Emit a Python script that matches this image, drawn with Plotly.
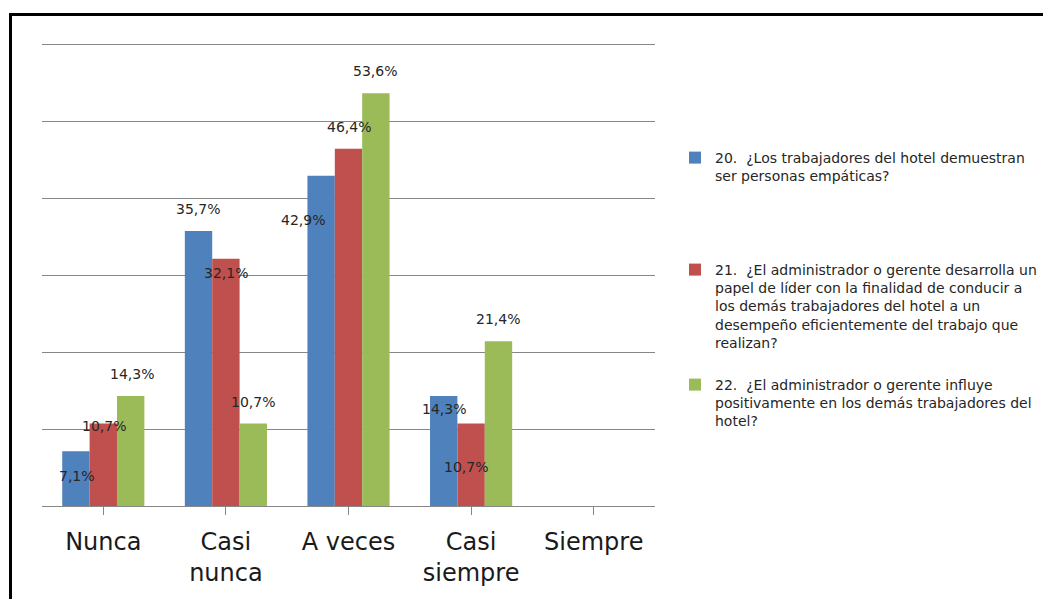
import plotly.graph_objects as go

categories = ["Nunca", "Casi<br>nunca", "A veces", "Casi<br>siempre", "Siempre"]
series_names = [
    "20.  ¿Los trabajadores del hotel demuestran<br>ser personas empáticas?",
    "21.  ¿El administrador o gerente desarrolla un<br>papel de líder con la finalidad de conducir a<br>los demás trabajadores del hotel a un<br>desempeño eficientemente del trabajo que<br>realizan?",
    "22.  ¿El administrador o gerente influye<br>positivamente en los demás trabajadores del<br>hotel?",
]
q20 = [7.1, 35.7, 42.9, 14.3, None]
q21 = [10.7, 32.1, 46.4, 10.7, None]
q22 = [14.3, 10.7, 53.6, 21.4, None]
series_values = [q20, q21, q22]
colors = ["#4F81BD", "#C0504D", "#9BBB59"]

# label nudges (px) relative to each bar's top centre: (dx, dy up)
label_nudge = [
    [(1, -25), (-1, 22), (-18, -44), (0, -13), None],
    [(1, -2), (0, -14), (0, 22), (-5, -43), None],
    [(1, 22), (0, 22), (-1, 22), (0, 22), None],
]

FONT = "DejaVu Sans"
OFF = 8  # default page body margin
PW, PH = 1051, 599
W, H = PW - OFF, PH - OFF
PLOT_L, PLOT_R, PLOT_T, PLOT_B = 42, 655, 41, 506   # page pixels
GRID_TOP = 44  # page pixel of the 60 % gridline
ML = PLOT_L - OFF
MT = PLOT_T - OFF
MR = W - (PLOT_R - OFF)
MB = H - (PLOT_B - OFF)
px_per_unit = (PLOT_B - GRID_TOP) / 60.0
y_top = (PLOT_B - PLOT_T) / px_per_unit

bargap = 0.33
n_series = len(series_values)
bar_w = (1 - bargap) / n_series

plot_h = PLOT_B - PLOT_T
legend_tops = [142, 254, 369]  # page pixels
legend_keys = ["legend", "legend2", "legend3"]

fig = go.Figure()
for j, (name, vals, col) in enumerate(zip(series_names, series_values, colors)):
    fig.add_trace(go.Bar(
        x=list(range(len(categories))), y=vals, name=name,
        marker=dict(color=col, line=dict(width=0)),
        legend=legend_keys[j],
    ))

annotations = []
for j, vals in enumerate(series_values):
    for i, v in enumerate(vals):
        if v is None:
            continue
        dx, dy = label_nudge[j][i]
        annotations.append(dict(
            x=i + (j - (n_series - 1) / 2) * bar_w, y=v, xref="x", yref="y",
            text=f"{v:.1f}%".replace(".", ","), showarrow=False,
            xshift=dx, yshift=dy, yanchor="middle", xanchor="center",
            font=dict(family=FONT, size=14, color="#262626"),
        ))

legend_common = dict(
    x=(675 - PLOT_L) / (PLOT_R - PLOT_L), xanchor="left", yanchor="top",
    font=dict(family=FONT, size=14, color="#262626"),
    bgcolor="rgba(0,0,0,0)", valign="top", borderwidth=0,
)
legend_cfg = {
    k: dict(y=(PLOT_B - t) / plot_h, **legend_common)
    for k, t in zip(legend_keys, legend_tops)
}

shapes = [
    dict(type="rect", xref="paper", yref="paper",
         xsizemode="pixel", ysizemode="pixel", xanchor=0, yanchor=1,
         x0=10.5 - PLOT_L, x1=1200 - PLOT_L, y0=PLOT_T - 14.5, y1=PLOT_T - 800,
         line=dict(color="black", width=3), fillcolor="rgba(0,0,0,0)", layer="above"),
]

fig.update_layout(
    width=W, height=H,
    margin=dict(l=ML, r=MR, t=MT, b=MB, pad=0, autoexpand=False),
    paper_bgcolor="white", plot_bgcolor="white",
    barmode="group", bargap=bargap, bargroupgap=0,
    xaxis=dict(
        tickmode="array", tickvals=list(range(len(categories))), ticktext=categories,
        range=[-0.5, len(categories) - 0.5],
        showgrid=False, zeroline=False,
        showline=True, linecolor="#878787", linewidth=1,
        ticks="outside", ticklen=8, tickcolor="#878787",
        ticklabelstandoff=6,
        tickfont=dict(family=FONT, size=24, color="#1a1a1a"),
    ),
    yaxis=dict(
        range=[0, y_top], tickmode="linear", tick0=0, dtick=10,
        showgrid=True, gridcolor="#878787", gridwidth=1,
        showticklabels=False, zeroline=False, showline=False, ticks="",
    ),
    annotations=annotations,
    shapes=shapes,
    showlegend=True,
    **legend_cfg,
)

fig.write_html("out.html")
